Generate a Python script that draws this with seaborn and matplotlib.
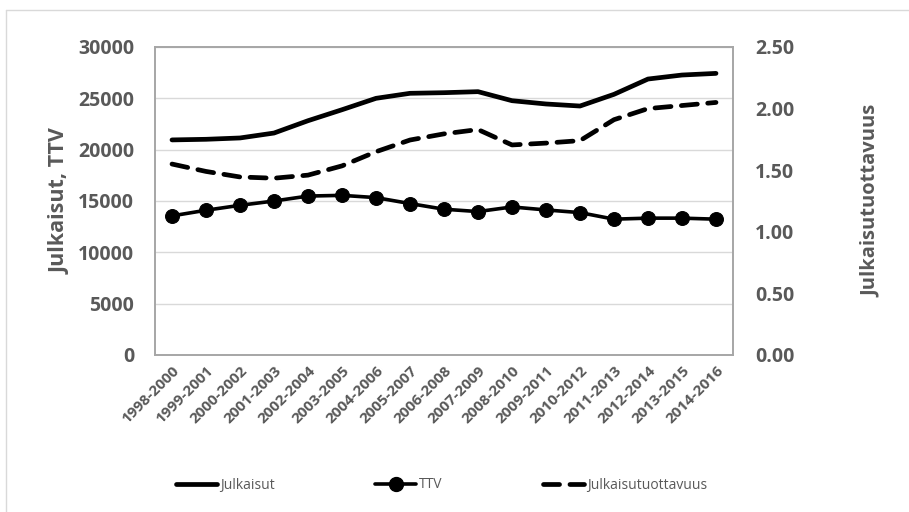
import numpy as np
import pandas as pd
import matplotlib
matplotlib.use("Agg")
import matplotlib.pyplot as plt
import seaborn as sns
from matplotlib.lines import Line2D

# data
periods = ["1998-2000", "1999-2001", "2000-2002", "2001-2003", "2002-2004",
           "2003-2005", "2004-2006", "2005-2007", "2006-2008", "2007-2009",
           "2008-2010", "2009-2011", "2010-2012", "2011-2013", "2012-2014",
           "2013-2015", "2014-2016"]
julkaisut = [20950, 21010, 21140, 21620, 22820, 23890, 25000, 25490, 25550,
             25650, 24770, 24450, 24250, 25390, 26880, 27270, 27430]
ttv = [13550, 14100, 14580, 15000, 15480, 15550, 15330, 14750, 14200,
       13970, 14420, 14130, 13870, 13230, 13330, 13330, 13230]
tuottavuus = [1.55, 1.49, 1.445, 1.435, 1.46, 1.535, 1.65, 1.745, 1.795,
              1.83, 1.705, 1.72, 1.74, 1.91, 2.00, 2.025, 2.05]

left_ticks = [0, 5000, 10000, 15000, 20000, 25000, 30000]
right_ticks = [0.0, 0.5, 1.0, 1.5, 2.0, 2.5]

df = pd.DataFrame({"period": periods, "Julkaisut": julkaisut,
                   "TTV": ttv, "Julkaisutuottavuus": tuottavuus})
df["x"] = np.arange(len(df))

sns.set_theme(style="white")
plt.rcParams["font.family"] = ["Open Sans", "DejaVu Sans"]

gray = "#595959"
fig = plt.figure(figsize=(9.09, 5.12), dpi=100)
ax = fig.add_axes([155 / 909, 1 - 355 / 512, 578 / 909, 308 / 512])
ax2 = ax.twinx()

sns.lineplot(data=df, x="x", y="Julkaisut", ax=ax, color="black", lw=3.4,
             solid_capstyle="round", zorder=3)
sns.lineplot(data=df, x="x", y="TTV", ax=ax, color="black", lw=2.6,
             marker="o", markersize=10, markeredgecolor="black", zorder=3)
sns.lineplot(data=df, x="x", y="Julkaisutuottavuus", ax=ax2, color="black",
             lw=3.4, dashes=False, zorder=3)
ax2.lines[0].set_linestyle((0, (3.4, 2.2)))
ax2.lines[0].set_dash_capstyle("round")

ax.set_xlim(-0.5, len(df) - 0.5)
ax.set_ylim(0, 30000)
ax2.set_ylim(0, 2.5)
ax.set_yticks(left_ticks)
ax2.set_yticks(right_ticks)
ax.set_yticklabels([str(v) for v in left_ticks], fontsize=14,
                   fontweight="bold", color=gray)
ax2.set_yticklabels([f"{v:.2f}" for v in right_ticks], fontsize=14,
                    fontweight="bold", color=gray)
ax.set_xticks(df["x"])
ax.set_xticklabels(periods, rotation=45, ha="right", rotation_mode="anchor",
                   fontsize=11, fontweight="bold", color=gray)
ax.tick_params(axis="x", length=0, pad=6)
ax.tick_params(axis="y", length=0, pad=15)
ax2.tick_params(axis="y", length=0, pad=16)

ax.yaxis.grid(True, color="#d9d9d9", lw=1)
ax.set_axisbelow(True)
for a in (ax, ax2):
    for s in a.spines.values():
        s.set_color("#a6a6a6")
        s.set_linewidth(1.2)

ax.set_xlabel("")
ax.set_ylabel("Julkaisut, TTV", fontsize=15.5, fontweight="bold", color=gray,
              labelpad=5)
ax2.set_ylabel("Julkaisutuottavuus", fontsize=14.5, fontweight="bold",
               color=gray, rotation=90, labelpad=48)

handles = [
    Line2D([], [], color="black", lw=3.4, solid_capstyle="round"),
    Line2D([], [], color="black", lw=2.6, marker="o", markersize=10),
    Line2D([], [], color="black", lw=3.4, linestyle=(0, (3.4, 2.2)),
           dash_capstyle="round"),
]
fig.legend(handles, ["Julkaisut", "TTV", "Julkaisutuottavuus"],
           loc="center left", bbox_to_anchor=(163 / 909, 1 - 485 / 512),
           ncol=3, frameon=False, fontsize=10, labelcolor=gray,
           handlelength=3.0, handletextpad=0.2, columnspacing=7.2)

# outer chart frame (left and top edges visible)
fig.add_artist(Line2D([6 / 909, 6 / 909], [0, 1 - 10 / 512],
                      transform=fig.transFigure, color="#d9d9d9", lw=1))
fig.add_artist(Line2D([6 / 909, 1], [1 - 10 / 512, 1 - 10 / 512],
                      transform=fig.transFigure, color="#d9d9d9", lw=1))

fig.savefig("out.png", dpi=100)
